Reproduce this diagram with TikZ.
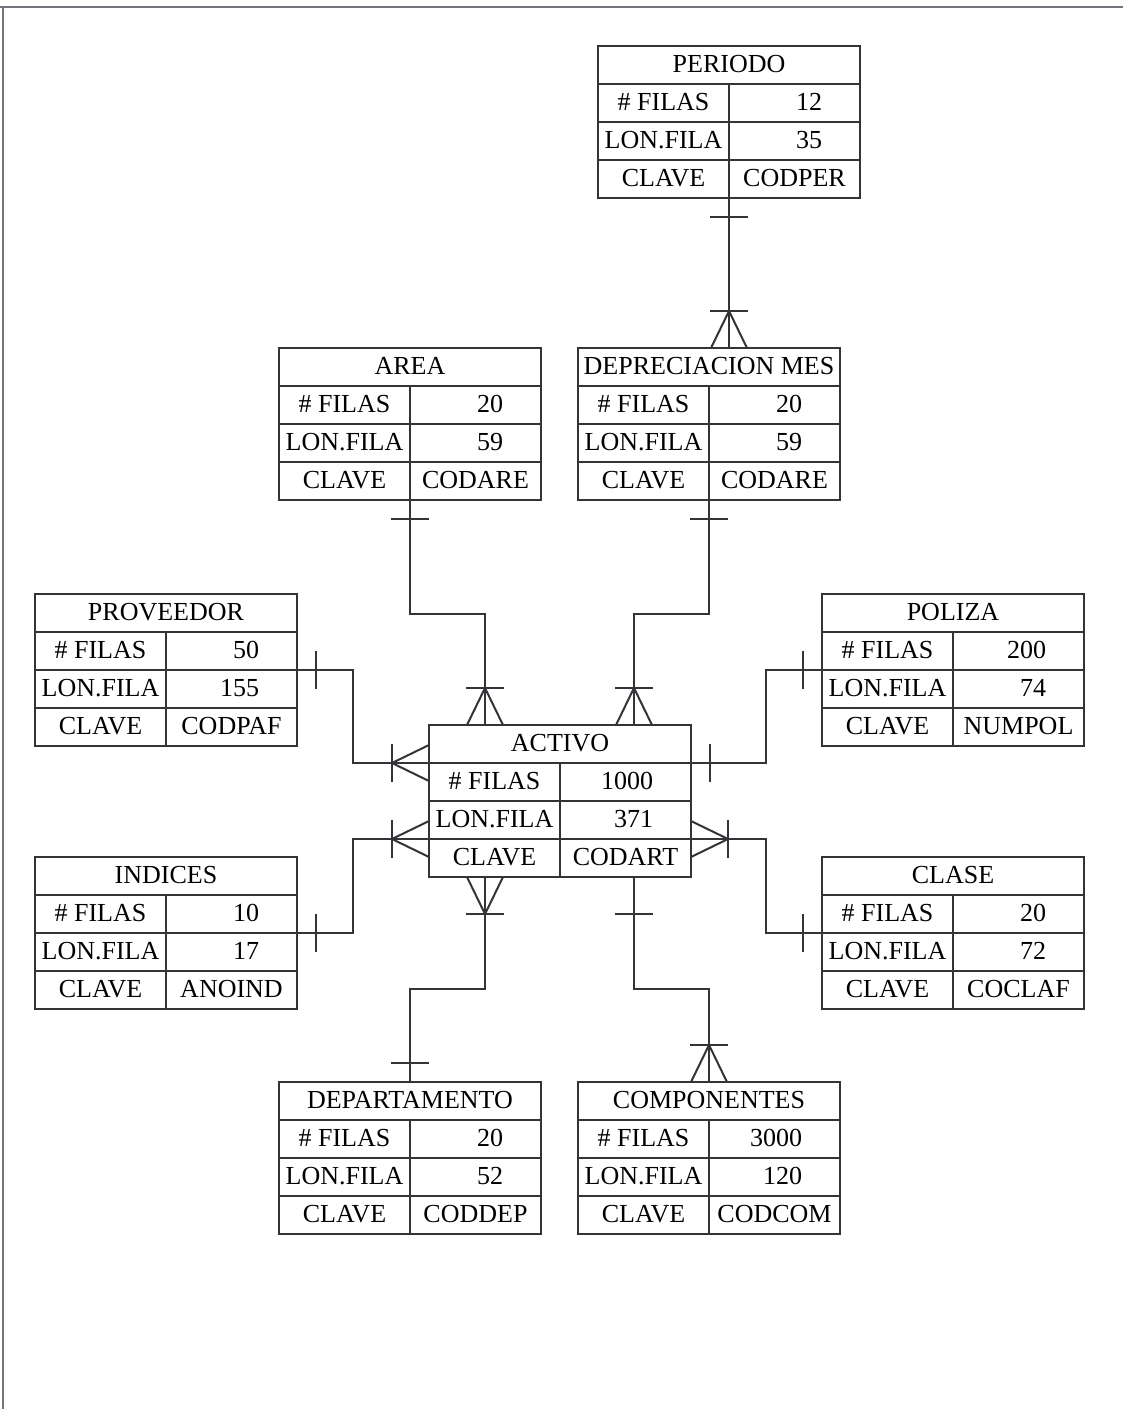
\documentclass[tikz,border=0pt]{standalone}
\usepackage{fontspec}
\setmainfont{Liberation Serif}
\usetikzlibrary{positioning}
\usetikzlibrary{decorations.markings}
\definecolor{trazo}{rgb}{0.2, 0.2, 0.22}
\definecolor{marco}{rgb}{0.45, 0.45, 0.48}

\tikzset{
  celda/.style={draw=trazo, line width=2pt, minimum width=131pt, minimum height=38pt,
    inner sep=0pt, outer sep=0pt, text height=17pt, text depth=2pt,
    font=\fontsize{26}{30}\selectfont},
  titulo/.style={celda, minimum width=262pt},
  numero/.style={celda, text width=55pt, align=right, inner xsep=38pt},
  linea/.style={draw=trazo, line width=2pt},
  uno/.style={postaction={decorate, decoration={markings,
    mark=at position #1 with {\draw[linea] (0pt,-19pt) -- (0pt,19pt);}}}},
  muchos ini/.style={postaction={decorate, decoration={markings,
    mark=at position 37pt with {\draw[linea] (0pt,-19pt) -- (0pt,19pt);
      \draw[linea] (-37pt,-18pt) -- (0pt,0pt) -- (-37pt,18pt);}}}},
  muchos fin/.style={postaction={decorate, decoration={markings,
    mark=at position -37pt with {\draw[linea] (0pt,-19pt) -- (0pt,19pt);
      \draw[linea] (37pt,-18pt) -- (0pt,0pt) -- (37pt,18pt);}}}}
}

% tabla: nombre, esquina, titulo, filas, longitud, clave
\newcommand{\tabla}[6]{%
  \node[titulo, anchor=north west] (#1) at (#2) {#3};
  \node[celda, anchor=north west] (#1-f) at (#1.south west) {\# FILAS};
  \node[numero, right=0pt of #1-f] (#1-fv) {#4};
  \node[celda, below=0pt of #1-f] (#1-l) {LON.FILA};
  \node[numero, right=0pt of #1-l] (#1-lv) {#5};
  \node[celda, below=0pt of #1-l] (#1-c) {CLAVE};
  \node[celda, right=0pt of #1-c] (#1-cv) {#6};
}

\begin{document}
\begin{tikzpicture}[x=1pt, y=-1pt]
      \useasboundingbox (0, 0) rectangle (1123, 1409);
      \draw [marco, line width=2.5pt] (0, 7) -- (1123, 7);
      \draw [marco, line width=2.5pt] (3, 7) -- (3, 1409);

      \tabla{periodo}{598, 46}{PERIODO}{12}{35}{CODPER}
      \tabla{area}{279, 348}{AREA}{20}{59}{CODARE}
      \tabla{depre}{578, 348}{DEPRECIACION MES}{20}{59}{CODARE}
      \tabla{proveedor}{35, 594}{PROVEEDOR}{50}{155}{CODPAF}
      \tabla{poliza}{822, 594}{POLIZA}{200}{74}{NUMPOL}
      \tabla{activo}{429, 725}{ACTIVO}{1000}{371}{CODART}
      \tabla{indices}{35, 857}{INDICES}{10}{17}{ANOIND}
      \tabla{clase}{822, 857}{CLASE}{20}{72}{COCLAF}
      \tabla{departamento}{279, 1082}{DEPARTAMENTO}{20}{52}{CODDEP}
      \tabla{componentes}{578, 1082}{COMPONENTES}{3000}{120}{CODCOM}

      \draw [linea, uno=19pt, muchos fin] (periodo-c.south east) -- (periodo-c.south east |- depre.north);
      \draw [linea, uno=19pt, muchos fin] (area-c.south east) -- ++(0, 114) -| ([xshift=56pt]activo.north west);
      \draw [linea, uno=19pt, muchos fin] (depre-c.south east) -- ++(0, 114) -| ([xshift=205pt]activo.north west);
      \draw [linea, uno=19pt, muchos fin] (proveedor-fv.south east) -- ++(56, 0) |- (activo.south west);
      \draw [linea, uno=19pt, uno=-19pt] (poliza-f.south west) -- ++(-56, 0) |- (activo.south east);
      \draw [linea, uno=19pt, muchos fin] (indices-fv.south east) -- ++(56, 0) |- (activo-l.south west);
      \draw [linea, uno=19pt, muchos fin] (clase-f.south west) -- ++(-56, 0) |- (activo-lv.south east);
      \draw [linea, muchos ini, uno=-19pt] ([xshift=56pt]activo-c.south west) -- ++(0, 112) -| (departamento.north);
      \draw [linea, uno=37pt, muchos fin] ([xshift=205pt]activo-c.south west) -- ++(0, 112) -| (componentes.north);
    \end{tikzpicture}
\end{document}
